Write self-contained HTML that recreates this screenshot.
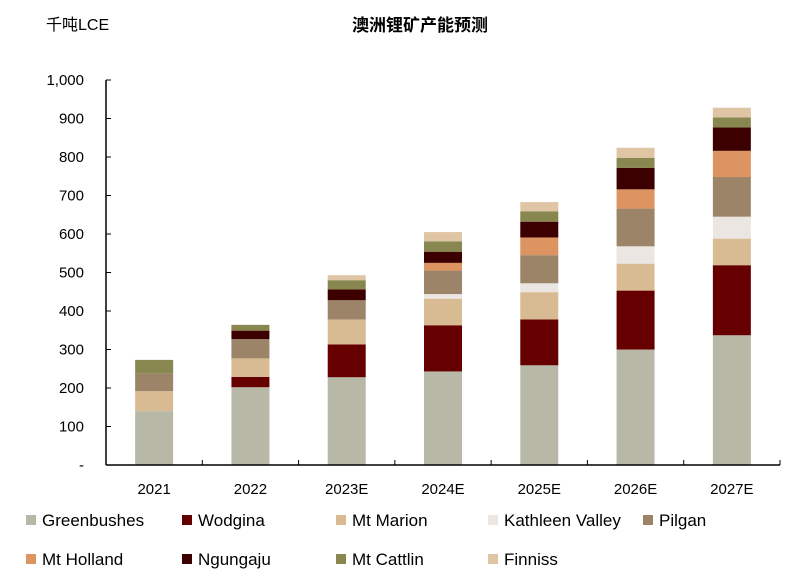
<!DOCTYPE html>
<html><head><meta charset="utf-8"><style>
body{margin:0;background:#fff;font-family:"Liberation Sans","Noto Sans CJK SC",sans-serif;}
</style></head><body>
<svg id="chart" width="797" height="583" xmlns="http://www.w3.org/2000/svg" style="font-family:'Liberation Sans','Noto Sans CJK SC',sans-serif">
<text x="46" y="30" font-size="16">千吨LCE</text>
<text x="420" y="31" font-size="17" font-weight="bold" text-anchor="middle">澳洲锂矿产能预测</text>
<g id="plot"></g>
<g id="legend"></g>
</svg>
<script>
const categories=["2021","2022","2023E","2024E","2025E","2026E","2027E"];
const seriesNames=["Greenbushes","Wodgina","Mt Marion","Kathleen Valley","Pilgan","Mt Holland","Ngungaju","Mt Cattlin","Finniss"];
const colors=["#b8b8a6","#660000","#d9bb93","#ebe6e2","#9c8469","#dd9460","#3d0000","#87874f","#e0c5a5"];
const greenbushes=[140,202,228,243,259,300,337];
const wodgina=[0,27,85,120,119,153,182];
const mtMarion=[52,48,65,69,71,70,69];
const kathleen=[0,0,0,12,23,45,57];
const pilgan=[46,50,50,61,73,98,103];
const mtHolland=[0,0,0,20,46,50,68];
const ngungaju=[0,22,28,29,41,56,61];
const mtCattlin=[35,15,24,27,27,26,26];
const finniss=[0,0,13,24,24,26,25];
const yTicks=[0,100,200,300,400,500,600,700,800,900,1000];
const yTickLabels=["-","100","200","300","400","500","600","700","800","900","1,000"];
const series=[greenbushes,wodgina,mtMarion,kathleen,pilgan,mtHolland,ngungaju,mtCattlin,finniss];
const NS="http://www.w3.org/2000/svg";
const x0=106,x1=780,y0=465,y1=80;
const yS=v=>y0-(v/1000)*(y0-y1);
const step=(x1-x0)/categories.length;
const xC=i=>x0+step*(i+0.5);
const bw=38;
const plot=document.getElementById('plot');
function mk(tag,attrs,parent){const e=document.createElementNS(NS,tag);for(const k in attrs)e.setAttribute(k,attrs[k]);parent.appendChild(e);return e;}
categories.forEach((c,i)=>{let acc=0;series.forEach((s,j)=>{const v=s[i];if(v>0){const r=mk('rect',{x:xC(i)-bw/2,y:yS(acc+v),width:bw,height:yS(acc)-yS(acc+v),fill:colors[j]},plot);

}acc+=v;});
const t=mk('text',{x:xC(i),y:494,'font-size':15,'text-anchor':'middle'},plot);t.textContent=c;


const tk=mk('line',{x1:x0+step*(i+1),x2:x0+step*(i+1),y1:y0,y2:y0-5,stroke:'#000','stroke-width':1},plot);

});
const ax=mk('line',{x1:x0,x2:x1,y1:y0,y2:y0,stroke:'#000','stroke-width':1.5},plot);


const ay=mk('line',{x1:x0,x2:x0,y1:y1,y2:y0,stroke:'#000','stroke-width':1.5},plot);


yTicks.forEach((v,k)=>{const l=mk('line',{x1:x0,x2:x0+5,y1:yS(v),y2:yS(v),stroke:'#000'},plot);


const t=mk('text',{x:84,y:yS(v)+5,'font-size':15,'text-anchor':'end'},plot);t.textContent=yTickLabels[k];

});
const leg=document.getElementById('legend');
const lx=[26,182,336,488,643,26,182,336,488];
seriesNames.forEach((n,j)=>{const row=j<5?0:1;const y=row?565:526;
const g=mk('g',{},leg);


mk('rect',{x:lx[j],y:y-11,width:10,height:10,fill:colors[j]},g);
const t=mk('text',{x:lx[j]+16,y:y,'font-size':17},g);t.textContent=n;});
</script>
</body></html>
